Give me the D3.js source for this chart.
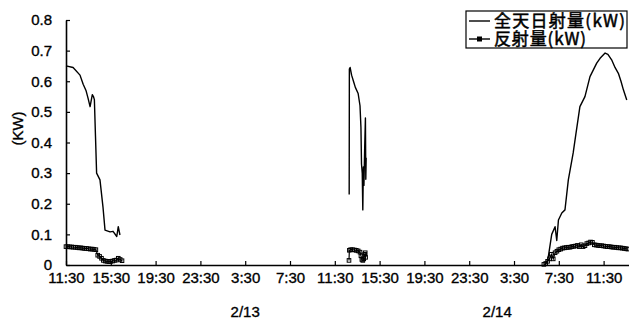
<!DOCTYPE html>
<html><head><meta charset="utf-8">
<script src="https://cdn.jsdelivr.net/npm/d3@7"></script>
<style>
html,body{margin:0;padding:0;background:#fff;}
svg{display:block;font-family:"Liberation Sans",Arial,sans-serif;}
</style></head><body>
<svg id="chart" width="629" height="323"></svg>
<script>
// Axis definitions
const yTicks = [0, 0.1, 0.2, 0.3, 0.4, 0.5, 0.6, 0.7, 0.8];
const yTickLabels = ["0", "0.1", "0.2", "0.3", "0.4", "0.5", "0.6", "0.7", "0.8"];
const xTickTimes = ["2/12 11:30", "2/12 15:30", "2/12 19:30", "2/12 23:30", "2/13 3:30", "2/13 7:30",
  "2/13 11:30", "2/13 15:30", "2/13 19:30", "2/13 23:30", "2/14 3:30", "2/14 7:30", "2/14 11:30"];
const xTickLabels = ["11:30", "15:30", "19:30", "23:30", "3:30", "7:30",
  "11:30", "15:30", "19:30", "23:30", "3:30", "7:30", "11:30"];
const dateLabels = ["2/13", "2/14"];
const dateLabelTimes = ["2/13 3:30", "2/14 2:00"];
const timeDomain = ["2/12 11:30", "2/14 13:46"];
const seriesNames = ["全天日射量(kW)", "反射量(kW)"];

// 全天日射量 (global radiation), one array per daylight stretch
const globalDay1 = [
  ["2/12 11:30", 0.650], ["2/12 12:08", 0.645], ["2/12 12:45", 0.620], ["2/12 13:02", 0.590],
  ["2/12 13:17", 0.570], ["2/12 13:28", 0.545], ["2/12 13:39", 0.517], ["2/12 13:51", 0.556],
  ["2/12 13:57", 0.550], ["2/12 14:02", 0.540], ["2/12 14:08", 0.420], ["2/12 14:14", 0.300],
  ["2/12 14:32", 0.278], ["2/12 14:48", 0.190], ["2/12 14:59", 0.114], ["2/12 15:26", 0.108],
  ["2/12 15:42", 0.110], ["2/12 16:02", 0.093], ["2/12 16:10", 0.125], ["2/12 16:19", 0.098]
];
const globalDay2 = [
  ["2/13 12:47", 0.230], ["2/13 12:48", 0.640], ["2/13 12:52", 0.645], ["2/13 13:00", 0.620],
  ["2/13 13:10", 0.600], ["2/13 13:20", 0.580], ["2/13 13:35", 0.560], ["2/13 13:45", 0.520],
  ["2/13 13:50", 0.450], ["2/13 13:53", 0.330], ["2/13 13:57", 0.300], ["2/13 14:00", 0.180],
  ["2/13 14:03", 0.320], ["2/13 14:06", 0.260], ["2/13 14:10", 0.380], ["2/13 14:14", 0.480],
  ["2/13 14:16", 0.280], ["2/13 14:18", 0.350]
];
const globalDay3 = [
  ["2/14 6:16", 0.000], ["2/14 6:32", 0.020], ["2/14 6:52", 0.100], ["2/14 7:10", 0.125],
  ["2/14 7:19", 0.080], ["2/14 7:28", 0.147], ["2/14 7:46", 0.170], ["2/14 8:03", 0.180],
  ["2/14 8:21", 0.278], ["2/14 8:47", 0.366], ["2/14 9:02", 0.430], ["2/14 9:23", 0.517],
  ["2/14 9:50", 0.550], ["2/14 10:17", 0.615], ["2/14 10:53", 0.659], ["2/14 11:11", 0.675],
  ["2/14 11:38", 0.692], ["2/14 11:53", 0.688], ["2/14 12:13", 0.670], ["2/14 12:31", 0.645],
  ["2/14 12:49", 0.626], ["2/14 13:03", 0.600], ["2/14 13:16", 0.572], ["2/14 13:34", 0.539]
];

// 反射量 (reflected radiation)
const reflectDay1 = [
  ["2/12 11:30", 0.060], ["2/12 11:40", 0.060], ["2/12 11:50", 0.059], ["2/12 12:00", 0.059],
  ["2/12 12:10", 0.058], ["2/12 12:20", 0.058], ["2/12 12:30", 0.057], ["2/12 12:40", 0.056],
  ["2/12 12:50", 0.056], ["2/12 13:00", 0.055], ["2/12 13:10", 0.054], ["2/12 13:20", 0.054],
  ["2/12 13:30", 0.053], ["2/12 13:40", 0.052], ["2/12 13:50", 0.052], ["2/12 14:00", 0.051],
  ["2/12 14:10", 0.050], ["2/12 14:20", 0.032], ["2/12 14:30", 0.028], ["2/12 14:40", 0.022],
  ["2/12 14:50", 0.015], ["2/12 15:00", 0.013], ["2/12 15:10", 0.012], ["2/12 15:20", 0.011],
  ["2/12 15:30", 0.012], ["2/12 15:40", 0.013], ["2/12 15:50", 0.015], ["2/12 16:00", 0.016],
  ["2/12 16:10", 0.022], ["2/12 16:20", 0.018], ["2/12 16:30", 0.014]
];
const reflectDay2 = [
  ["2/13 12:46", 0.015], ["2/13 12:48", 0.048], ["2/13 12:55", 0.050], ["2/13 13:05", 0.050],
  ["2/13 13:15", 0.049], ["2/13 13:25", 0.048], ["2/13 13:35", 0.046], ["2/13 13:45", 0.042],
  ["2/13 13:50", 0.030], ["2/13 13:55", 0.018], ["2/13 14:00", 0.015], ["2/13 14:05", 0.020],
  ["2/13 14:10", 0.035], ["2/13 14:13", 0.040], ["2/13 14:15", 0.025]
];
const reflectDay3 = [
  ["2/14 6:10", 0.002], ["2/14 6:20", 0.005], ["2/14 6:30", 0.012], ["2/14 6:40", 0.020],
  ["2/14 6:50", 0.035], ["2/14 7:00", 0.020], ["2/14 7:10", 0.040], ["2/14 7:20", 0.045],
  ["2/14 7:30", 0.050], ["2/14 7:40", 0.052], ["2/14 7:50", 0.055], ["2/14 8:00", 0.056],
  ["2/14 8:10", 0.057], ["2/14 8:20", 0.058], ["2/14 8:30", 0.058], ["2/14 8:40", 0.060],
  ["2/14 8:50", 0.061], ["2/14 9:00", 0.062], ["2/14 9:10", 0.064], ["2/14 9:20", 0.060],
  ["2/14 9:30", 0.066], ["2/14 9:40", 0.060], ["2/14 9:50", 0.063], ["2/14 10:00", 0.070],
  ["2/14 10:10", 0.072], ["2/14 10:20", 0.075], ["2/14 10:30", 0.074], ["2/14 10:40", 0.066],
  ["2/14 10:50", 0.065], ["2/14 11:00", 0.064], ["2/14 11:10", 0.063], ["2/14 11:20", 0.063],
  ["2/14 11:30", 0.062], ["2/14 11:40", 0.061], ["2/14 11:50", 0.060], ["2/14 12:00", 0.060],
  ["2/14 12:10", 0.059], ["2/14 12:20", 0.058], ["2/14 12:30", 0.058], ["2/14 12:40", 0.057],
  ["2/14 12:50", 0.056], ["2/14 13:00", 0.056], ["2/14 13:10", 0.055], ["2/14 13:20", 0.054],
  ["2/14 13:30", 0.053], ["2/14 13:40", 0.052]
];

const parse = d3.timeParse("%m/%d %H:%M");
const svg = d3.select("#chart");
const margin = {left: 66, top: 20, bottom: 58};
const W = 629, H = 323;

const x = d3.scaleTime().domain(timeDomain.map(parse)).range([margin.left, W]);
const y = d3.scaleLinear().domain([0, 0.8]).range([H - margin.bottom, margin.top]);

function styleText(sel, size) {
  sel.attr("font-size", size).attr("fill", "#000")
    .attr("stroke", "#000").attr("stroke-width", 0.35);
}

// X axis: ticks point up into the plot, labels centred on each tick
const xAxis = d3.axisBottom(x)
  .tickValues(xTickTimes.map(parse))
  .tickFormat((d, i) => xTickLabels[i])
  .tickSizeInner(-4).tickSizeOuter(0).tickPadding(7);
const gx = svg.append("g").attr("transform", `translate(0,${y(0)})`).call(xAxis);
gx.select(".domain").attr("stroke", "#000").attr("stroke-width", 1.6);
gx.selectAll(".tick line").attr("stroke", "#000").attr("stroke-width", 1.2);
styleText(gx.selectAll("text"), 15);

// Y axis
const yAxis = d3.axisLeft(y)
  .tickValues(yTicks)
  .tickFormat((d, i) => yTickLabels[i])
  .tickSizeInner(-4).tickSizeOuter(0).tickPadding(14);
const gy = svg.append("g").attr("transform", `translate(${margin.left},0)`).call(yAxis);
gy.select(".domain").attr("stroke", "#000").attr("stroke-width", 1.6);
gy.selectAll(".tick line").attr("stroke", "#000").attr("stroke-width", 1.2);
styleText(gy.selectAll("text"), 15);

// Y axis title
styleText(svg.append("text")
  .attr("transform", `translate(23,${(y(0.8) + y(0)) / 2 - 14}) rotate(-90)`)
  .attr("text-anchor", "middle")
  .text("(KW)"), 15);

// Date labels under the time ticks
styleText(svg.selectAll(".date").data(dateLabels).join("text")
  .attr("class", "date")
  .attr("x", (d, i) => x(parse(dateLabelTimes[i])))
  .attr("y", 317)
  .attr("text-anchor", "middle")
  .text(d => d), 15);

const line = d3.line()
  .x(d => x(parse(d[0])))
  .y(d => y(d[1]));

const plot = svg.append("g");

// Global radiation: plain thin line
[globalDay1, globalDay2, globalDay3].forEach(seg => {
  plot.append("path").datum(seg)
    .attr("d", line).attr("fill", "none")
    .attr("stroke", "#000").attr("stroke-width", 1.4)
    .attr("stroke-linejoin", "round");
});

// Reflected radiation: line with small square markers
[reflectDay1, reflectDay2, reflectDay3].forEach(seg => {
  plot.append("path").datum(seg)
    .attr("d", line).attr("fill", "none")
    .attr("stroke", "#000").attr("stroke-width", 1.2);
  plot.append("g").selectAll("rect").data(seg).join("rect")
    .attr("x", d => x(parse(d[0])) - 1.8)
    .attr("y", d => y(d[1]) - 1.8)
    .attr("width", 3.6).attr("height", 3.6)
    .attr("fill", "none").attr("stroke", "#000").attr("stroke-width", 1);
});

// Legend
const lg = svg.append("g").attr("transform", "translate(466,11)");
lg.append("rect").attr("width", 161).attr("height", 37)
  .attr("fill", "#fff").attr("stroke", "#000").attr("stroke-width", 1.2);
const rowY = [10, 28];
lg.selectAll(".sym").data(seriesNames).join("line")
  .attr("class", "sym")
  .attr("x1", 3).attr("x2", 24).attr("y1", (d, i) => rowY[i]).attr("y2", (d, i) => rowY[i])
  .attr("stroke", "#000").attr("stroke-width", 1.4);
lg.append("rect")
  .attr("x", 11).attr("y", rowY[1] - 2.5).attr("width", 5).attr("height", 5).attr("fill", "#000");
const lt = lg.append("text")
  .attr("font-family", "'Noto Sans CJK JP', sans-serif")
  .attr("font-size", 17).attr("fill", "#000")
  .attr("stroke", "#000").attr("stroke-width", 0.5);
lt.selectAll("tspan").data(seriesNames).join("tspan")
  .attr("x", 28).attr("y", (d, i) => rowY[i]).attr("dy", "0.36em")
  .attr("textLength", (d, i) => i === 0 ? 131 : 92)
  .text(d => d);
</script>
</body></html>
